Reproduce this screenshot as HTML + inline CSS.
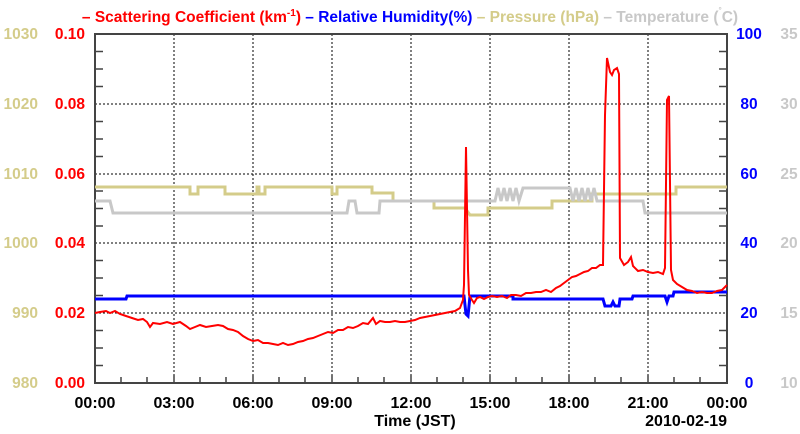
<!DOCTYPE html>
<html><head><meta charset="utf-8"><style>
html,body{margin:0;padding:0;background:#fff;width:800px;height:434px;overflow:hidden}
svg{display:block}
text{font-family:"Liberation Sans",sans-serif;font-weight:bold}
</style></head><body>
<svg width="800" height="434" xmlns="http://www.w3.org/2000/svg">
<text x="410" y="22" font-size="15.5" text-anchor="middle"><tspan fill="#ff0000">– Scattering Coefficient (km<tspan font-size="10" dy="-6">-1</tspan><tspan dy="6">) </tspan></tspan><tspan fill="#0000ff">– Relative Humidity(%) </tspan><tspan fill="#d4cc8a">– Pressure (hPa) </tspan><tspan fill="#c8c8c8">– Temperature (<tspan font-size="8" dy="-9">°</tspan><tspan dy="9">C)</tspan></tspan></text>
<g stroke="#000" stroke-width="1" stroke-dasharray="2,2">
<line x1="174" y1="34" x2="174" y2="383"/><line x1="253" y1="34" x2="253" y2="383"/><line x1="332" y1="34" x2="332" y2="383"/><line x1="411" y1="34" x2="411" y2="383"/><line x1="490" y1="34" x2="490" y2="383"/><line x1="569" y1="34" x2="569" y2="383"/><line x1="648" y1="34" x2="648" y2="383"/>
<line x1="95" y1="313" x2="727" y2="313"/><line x1="95" y1="243" x2="727" y2="243"/><line x1="95" y1="174" x2="727" y2="174"/><line x1="95" y1="104" x2="727" y2="104"/>
</g>
<g stroke="#444" stroke-width="1.5">
<path d="M95 365.5h8M95 348h8M95 330.5h8M95 295.5h8M95 278h8M95 260.5h8M95 226h8M95 208.5h8M95 191h8M95 156.5h8M95 139h8M95 121.5h8M95 86.5h8M95 69h8M95 51.5h8"/>
<path d="M727 365.5h-8M727 348h-8M727 330.5h-8M727 295.5h-8M727 278h-8M727 260.5h-8M727 226h-8M727 208.5h-8M727 191h-8M727 156.5h-8M727 139h-8M727 121.5h-8M727 86.5h-8M727 69h-8M727 51.5h-8"/>
<path d="M121 383v-6M147 383v-6M200 383v-6M226 383v-6M279 383v-6M305 383v-6M358 383v-6M384 383v-6M437 383v-6M463 383v-6M516 383v-6M542 383v-6M595 383v-6M621 383v-6M674 383v-6M700 383v-6"/>
<path d="M174 383v-8M253 383v-8M332 383v-8M411 383v-8M490 383v-8M569 383v-8M648 383v-8"/>
</g>
<rect x="95" y="34" width="632" height="349" fill="none" stroke="#444" stroke-width="2"/>
<polyline fill="none" stroke="#d4cc8a" stroke-width="3" points="95,187 190,187 190,194 198,194 198,187 225,187 225,194 257,194 257,187 259,187 259,194 265,194 265,187 332,187 332,194 337,194 337,187 372,187 372,193 393,193 393,201 434,201 434,208 465,208 470,215 488,215 488,208 552,208 552,201 592,201 592,194 676,194 676,187 727,187"/>
<polyline fill="none" stroke="#c8c8c8" stroke-width="3" points="95,201 110,201 113,213 347,213 349,201 355,201 357,213 379,213 380,201 495,201 498,188 501,201 504,188 507,201 510,188 513,201 516,188 519,201 523,188 570,188 573,201 576,188 579,201 582,188 585,201 588,188 591,201 594,188 597,201 643,201 645,213 727,213"/>
<polyline fill="none" stroke="#0000ff" stroke-width="3" points="95,299 126,299 127,296 464,296 466,314 468,316 470,296 513,296 513,299 603,299 605,306 611,306 613,302 615,306 619,306 620,299 632,299 633,296 665,296 667,302 669,296 673,296 674,292 727,292"/>
<polyline fill="none" stroke="#ff0000" stroke-width="2" points="95,313 100,312 106,311 110,313 115,311 120,314 126,316 132,318 138,320 143,319 147,322 150,327 153,323 160,324 167,322 173,324 180,322 186,326 190,329 195,327 200,325 206,327 212,326 218,325 223,326 228,329 233,330 238,332 243,336 248,339 253,341 258,340 263,343 268,343 273,344 278,345 283,343 288,345 293,344 298,342 303,341 308,339 313,338 318,336 323,334 328,332 333,333 338,330 343,330 348,327 353,328 358,326 363,323 368,324 373,318 376,324 380,321 385,322 390,322 395,321 400,322 405,322 410,321 415,320 420,318 425,317 430,316 435,315 440,314 445,313 450,312 455,311 460,308 463,300 464,285 466,147 468,270 469,295 472,300 474,303 477,298 480,297 484,299 488,297 492,296 497,297 502,296 507,298 511,295 516,295 521,296 526,293 531,293 536,292 541,292 546,290 551,292 556,288 560,286 564,283 568,280 572,277 576,276 580,274 584,272 588,271 592,268 596,268 600,265 603,265 605,115 607,58 610,72 612,75 614,70 617,68 619,74 620,258 624,265 628,262 631,257 633,266 638,271 643,270 648,272 653,273 658,272 663,274 665,268 667,100 669,96 671,270 673,280 677,284 682,287 687,290 692,291 697,293 702,292 707,293 712,293 717,291 722,290 727,285"/>
<g font-size="15.5" fill="#d4cc8a" text-anchor="end">
<text x="38" y="39">1030</text><text x="38" y="109">1020</text><text x="38" y="179">1010</text><text x="38" y="248">1000</text><text x="38" y="318">990</text><text x="38" y="388">980</text>
</g>
<g font-size="15.5" fill="#ff0000" text-anchor="end">
<text x="85" y="39">0.10</text><text x="85" y="109">0.08</text><text x="85" y="179">0.06</text><text x="85" y="248">0.04</text><text x="85" y="318">0.02</text><text x="85" y="388">0.00</text>
</g>
<g font-size="15.5" fill="#0000ff" text-anchor="middle">
<text x="749" y="39">100</text><text x="749" y="109">80</text><text x="749" y="179">60</text><text x="749" y="248">40</text><text x="749" y="318">20</text><text x="749" y="388">0</text>
</g>
<g font-size="15.5" fill="#c8c8c8" text-anchor="middle">
<text x="789" y="39">35</text><text x="789" y="109">30</text><text x="789" y="179">25</text><text x="789" y="248">20</text><text x="789" y="318">15</text><text x="789" y="388">10</text>
</g>
<g font-size="16" fill="#000" text-anchor="middle">
<text x="95" y="408">00:00</text><text x="174" y="408">03:00</text><text x="253" y="408">06:00</text><text x="332" y="408">09:00</text><text x="411" y="408">12:00</text><text x="490" y="408">15:00</text><text x="569" y="408">18:00</text><text x="648" y="408">21:00</text><text x="727" y="408">00:00</text>
<text x="415" y="426">Time (JST)</text>
<text x="727" y="426" text-anchor="end">2010-02-19</text>
</g>
</svg>
</body></html>
